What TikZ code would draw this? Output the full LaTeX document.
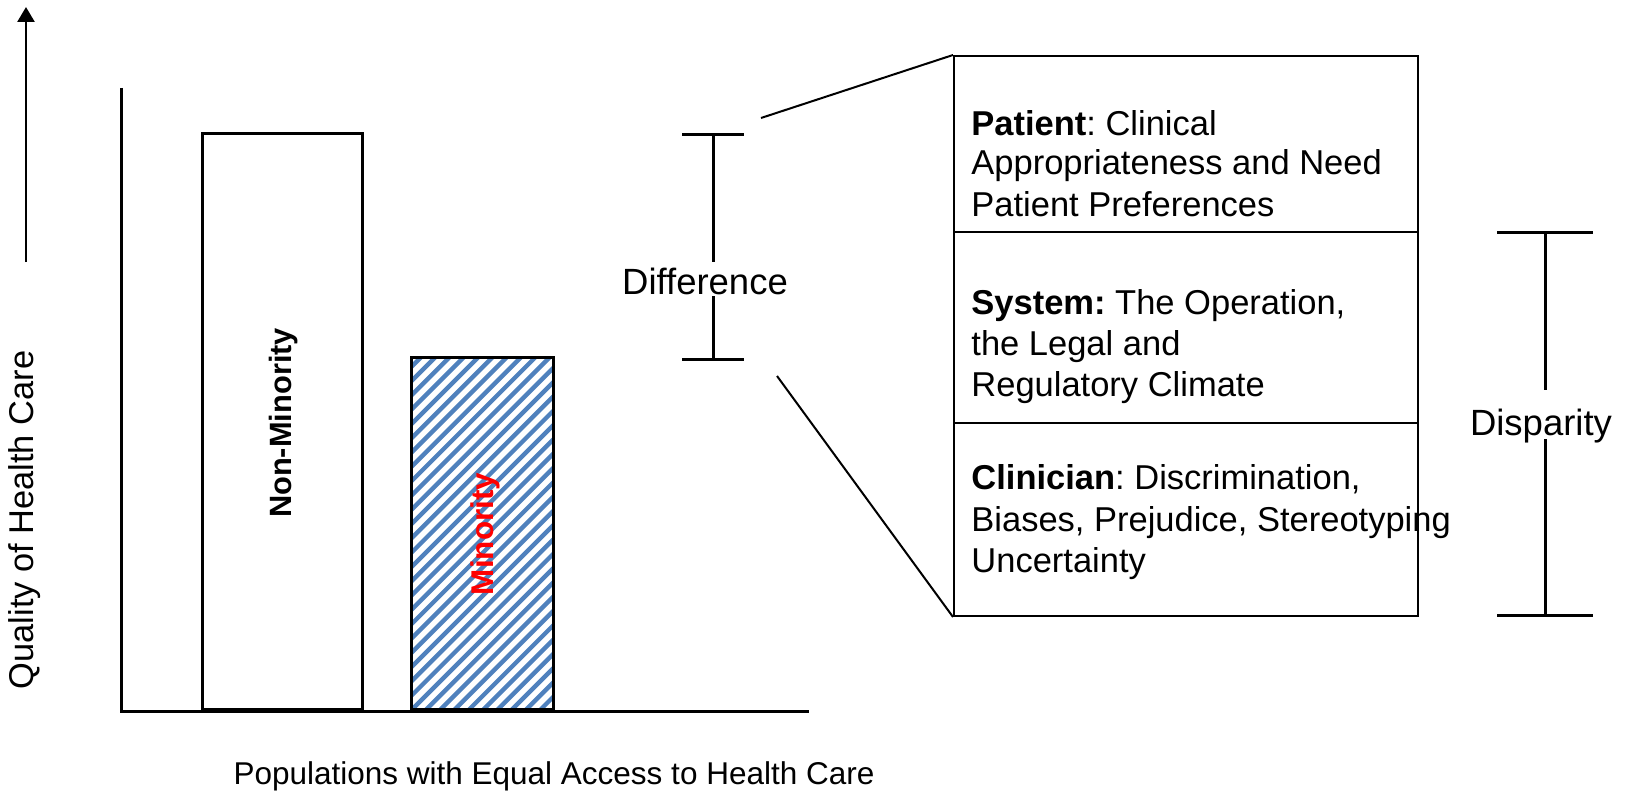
\documentclass[tikz,border=0pt]{standalone}
\usepackage{fontspec}
\setmainfont{Liberation Sans}
\usetikzlibrary{arrows.meta}
\definecolor{hatchblue}{HTML}{4F81BD}
\definecolor{minred}{HTML}{FF0000}
\frenchspacing
\begin{document}
\begin{tikzpicture}[x=0.5pt,y=-0.5pt,
  axisline/.style={line width=1.5pt},
  barbox/.style={draw, line width=1.3pt, inner sep=0pt, anchor=south west},
  panel/.style={draw, line width=1pt, inner sep=0pt, anchor=north west, minimum width=232pt},
  panetext/.style={anchor=base west, inner sep=0pt, font=\fontsize{17.25}{20}\selectfont},
  bigtext/.style={anchor=base, inner sep=0pt, font=\fontsize{18.25}{22}\selectfont},
  bracket/.style={line width=1.5pt},
  lead/.style={line width=1pt},
  ]
\useasboundingbox (0,0) rectangle (1625,791);

% upward "quality" arrow
\coordinate (arrowfoot) at (26,262);
\coordinate (arrowtip) at (26,7);
\draw[line width=1.3pt, -{Triangle[width=8.5pt,length=7.5pt]}] (arrowfoot) -- (arrowtip);

% hatch of the minority bar
\begin{scope}
  \clip (410,359) rectangle (552,711);
  \foreach \k in {0,...,41}
    \draw[hatchblue, line width=2.2pt] ({10+\k*14.3},711) -- ++(400,-400);
\end{scope}

% bars
\node[barbox, minimum width=80pt, minimum height=288pt] (nonminbar) at (201,711) {};
\node[barbox, minimum width=71pt, minimum height=176pt] (minbar) at (410,711) {};

% axes
\coordinate (origin) at (121,711);
\coordinate (ytop) at (121,88);
\coordinate (xend) at (809,711);
\draw[axisline] (ytop) -- (origin) -- (xend);

% bar and axis labels
\node[rotate=90, anchor=base, inner sep=0pt, font=\bfseries\fontsize{15.4}{18}\selectfont] (nonminlabel) at (291,423) {Non-Minority};
\node[rotate=90, anchor=base, inner sep=0pt, text=minred, font=\bfseries\fontsize{15.7}{19}\selectfont] (minlabel) at (493,534) {Minority};
\node[rotate=90, anchor=base, inner sep=0pt, font=\fontsize{17.2}{20}\selectfont] (ylabel) at (33,520) {Quality of Health Care};
\node[anchor=base, inner sep=0pt, font=\fontsize{15.75}{19}\selectfont] (xlabel) at (554,784) {Populations with Equal Access to Health Care};

% difference bracket
\coordinate (dtopl) at (682,135);
\coordinate (dtopr) at (744,135);
\coordinate (dbotl) at (682,359);
\coordinate (dbotr) at (744,359);
\coordinate (dtop) at (713,135);
\coordinate (dgapa) at (713,262);
\coordinate (dgapb) at (713,296);
\coordinate (dbot) at (713,359);
\draw[bracket] (dtopl) -- (dtopr);
\draw[bracket] (dbotl) -- (dbotr);
\draw[bracket] (dtop) -- (dgapa);
\draw[bracket] (dgapb) -- (dbot);
\node[bigtext] (difflabel) at (705,294) {Difference};

% factor panels
\node[panel, minimum height=88pt] (patientbox) at (953,55) {};
\node[panel, minimum height=95.5pt] (systembox) at (953,231) {};
\node[panel, minimum height=96.5pt] (clinicianbox) at (953,422) {};

% leads from the difference to the panels
\coordinate (leadtop) at (761,118);
\coordinate (leadbottom) at (777,376);
\draw[lead] (leadtop) -- (patientbox.north west);
\draw[lead] (leadbottom) -- (clinicianbox.south west);

% panel texts
\node[panetext] (pt1) at (971,136) {\textbf{Patient}: Clinical};
\node[panetext] (pt2) at (971,175) {Appropriateness and Need};
\node[panetext] (pt3) at (971,216) {Patient Preferences};
\node[panetext] (st1) at (971,314) {\textbf{System:} The Operation,};
\node[panetext] (st2) at (971,355) {the Legal and};
\node[panetext] (st3) at (971,396) {Regulatory Climate};
\node[panetext] (cl1) at (971,489) {\textbf{Clinician}: Discrimination,};
\node[panetext] (cl2) at (971,531) {Biases, Prejudice, Stereotyping};
\node[panetext] (cl3) at (971,572) {Uncertainty};

% disparity bracket
\coordinate (ptopl) at (1497,232);
\coordinate (ptopr) at (1593,232);
\coordinate (pbotl) at (1497,615);
\coordinate (pbotr) at (1593,615);
\coordinate (ptop) at (1545,232);
\coordinate (pgapa) at (1545,390);
\coordinate (pgapb) at (1545,439);
\coordinate (pbot) at (1545,615);
\draw[bracket] (ptopl) -- (ptopr);
\draw[bracket] (pbotl) -- (pbotr);
\draw[bracket] (ptop) -- (pgapa);
\draw[bracket] (pgapb) -- (pbot);
\node[bigtext] (displabel) at (1541,435) {Disparity};
\end{tikzpicture}
\end{document}
